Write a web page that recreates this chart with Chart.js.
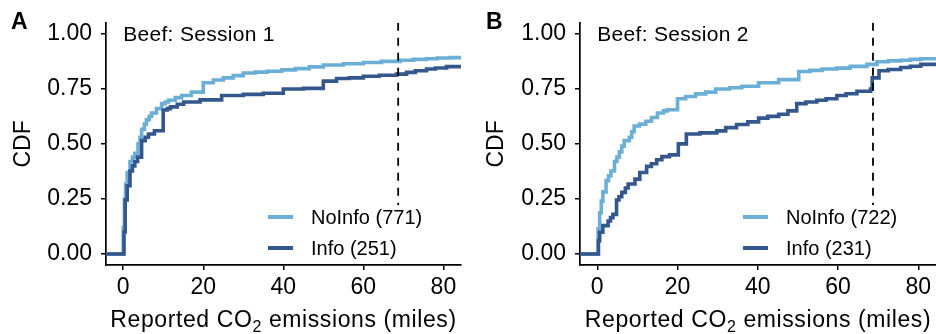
<!DOCTYPE html>
<html>
<head>
<meta charset="utf-8">
<script src="https://cdn.jsdelivr.net/npm/chart.js@4.4.1/dist/chart.umd.min.js"></script>
<style>
  html, body { margin: 0; padding: 0; background: #fff; }
  .panel { position: absolute; top: 0; width: 468px; height: 334px; }
  #panel-a { left: 0; }
  #panel-b { left: 468px; }
</style>
</head>
<body>
<div class="panel" id="panel-a"><canvas id="chart-a"></canvas></div>
<div class="panel" id="panel-b"><canvas id="chart-b"></canvas></div>
<script>
// axis ticks + reference line
const xTicks = [0, 20, 40, 60, 80];
const yTicks = [0, 0.25, 0.5, 0.75, 1];
const cutoffMiles = 68.7;

const groupLabels = ['NoInfo', 'Info'];
const s1Counts = [771, 251];
const s2Counts = [722, 231];

// ECDF steps: x = where the jump happens, y = value after it
const s1NoInfoX = [-5, 0, 0.3, 0.6, 1.0, 1.7, 2.3, 2.9, 3.7, 4.2, 4.6, 5.3, 5.8, 6.5, 7.1, 8.3, 9.6, 10.5, 11.3, 13, 14.6, 17, 20, 22.5, 25, 27.5, 30, 33, 36, 39.6, 43, 46.5, 50, 55, 60, 64.5, 69.2, 72.5, 75.8, 78.5, 81.7, 84.5];
const s1NoInfoY = [0, 0.12, 0.25, 0.318, 0.37, 0.42, 0.44, 0.457, 0.50, 0.53, 0.566, 0.59, 0.61, 0.625, 0.64, 0.66, 0.683, 0.69, 0.698, 0.71, 0.72, 0.735, 0.778, 0.79, 0.80, 0.81, 0.822, 0.826, 0.83, 0.836, 0.842, 0.85, 0.858, 0.864, 0.87, 0.875, 0.88, 0.884, 0.887, 0.89, 0.892, 0.893];
const s1InfoX = [-5, 0.2, 0.5, 1.0, 1.7, 2.3, 2.9, 3.6, 4.6, 5.5, 6.3, 7.8, 10, 11, 11.8, 13.5, 15.1, 19.2, 24.6, 30, 35, 40, 45, 50, 53.3, 56.5, 60, 64, 68.3, 70.8, 73, 75.8, 78, 80.8, 84.5];
const s1InfoY = [0, 0.10, 0.245, 0.31, 0.377, 0.40, 0.42, 0.44, 0.515, 0.53, 0.545, 0.56, 0.654, 0.66, 0.668, 0.68, 0.69, 0.70, 0.72, 0.725, 0.73, 0.749, 0.752, 0.785, 0.797, 0.80, 0.807, 0.812, 0.817, 0.825, 0.832, 0.84, 0.845, 0.851, 0.853];

const s2NoInfoX = [-5, 0.2, 0.6, 1.0, 1.4, 2.2, 2.8, 3.4, 4.3, 4.9, 5.5, 6.1, 6.7, 8.0, 8.6, 9.2, 10.5, 12.1, 13.5, 15, 16.5, 17.5, 20, 22, 24.5, 27, 29.5, 33, 36, 40.2, 45.2, 50.2, 53, 56, 59.7, 63, 67.2, 69.7, 72.5, 75.6, 78, 80.6, 84.5];
const s2NoInfoY = [0, 0.114, 0.187, 0.24, 0.282, 0.333, 0.355, 0.377, 0.42, 0.44, 0.464, 0.49, 0.515, 0.53, 0.555, 0.581, 0.59, 0.603, 0.62, 0.64, 0.65, 0.655, 0.705, 0.715, 0.727, 0.735, 0.749, 0.755, 0.762, 0.778, 0.792, 0.829, 0.834, 0.84, 0.844, 0.852, 0.861, 0.873, 0.877, 0.88, 0.884, 0.887, 0.89];
const s2InfoX = [-5, 0.3, 0.6, 1.4, 2.7, 3.3, 3.9, 4.8, 5.4, 6.1, 7.0, 7.7, 9.4, 10.6, 12.3, 13.5, 14.8, 16.1, 18, 20.2, 22.2, 25.6, 29.8, 32, 34.7, 37.5, 40.2, 42.5, 45.2, 47.5, 49.7, 52, 54.7, 57, 59.7, 62, 64.7, 68.1, 68.5, 70.2, 72.5, 75.6, 78, 80.6, 84.5];
const s2InfoY = [0, 0.06, 0.099, 0.129, 0.15, 0.165, 0.18, 0.245, 0.26, 0.28, 0.30, 0.318, 0.34, 0.37, 0.398, 0.41, 0.428, 0.442, 0.45, 0.50, 0.545, 0.55, 0.559, 0.574, 0.588, 0.60, 0.617, 0.625, 0.635, 0.65, 0.683, 0.69, 0.698, 0.705, 0.72, 0.728, 0.739, 0.749, 0.80, 0.832, 0.838, 0.847, 0.853, 0.861, 0.862];

const lightBlue = '#6baed6';
const darkBlue = '#34578e';
const fontFamily = '"Liberation Sans", Arial, Helvetica, sans-serif';

function stepPoints(xs, ys) {
  return xs.map((x, i) => ({ x: x, y: ys[i] }));
}

// panel letter, in-plot title, x title with subscript, legend box
const panelDecor = {
  id: 'panelDecor',
  afterDatasetsDraw(chart, args, opts) {
    const ctx = chart.ctx;
    const area = chart.chartArea;
    const xs = chart.scales.x, ys = chart.scales.y;
    ctx.save();
    ctx.fillStyle = '#000';

    ctx.font = 'bold 23px ' + fontFamily;
    ctx.textAlign = 'left';
    ctx.textBaseline = 'alphabetic';
    ctx.fillText(opts.letter, opts.letterX, 29);

    ctx.font = '21px ' + fontFamily;
    ctx.textBaseline = 'middle';
    ctx.letterSpacing = '0.3px';
    ctx.fillText(opts.title, xs.getPixelForValue(0), ys.getPixelForValue(1) + 1);

    // x title: Reported CO2 emissions (miles)
    const big = '23px ' + fontFamily, small = '16px ' + fontFamily;
    const p1 = 'Reported CO', p2 = '2', p3 = ' emissions (miles)';
    ctx.letterSpacing = '0.6px';
    ctx.font = big;
    const w1 = ctx.measureText(p1).width, w3 = ctx.measureText(p3).width;
    ctx.font = small;
    const w2 = ctx.measureText(p2).width;
    let x = (area.left + area.right) / 2 - (w1 + w2 + w3) / 2;
    const base = 327;
    ctx.textBaseline = 'alphabetic';
    ctx.font = big; ctx.fillText(p1, x, base); x += w1;
    ctx.font = small; ctx.fillText(p2, x, base + 5); x += w2;
    ctx.font = big; ctx.fillText(p3, x, base);
    ctx.letterSpacing = '0px';

    // legend
    ctx.fillStyle = '#fff';
    ctx.fillRect(area.right - 200, area.bottom - 60, 199, 59);
    const rows = [
      { color: lightBlue, text: groupLabels[0] + ' (' + opts.counts[0] + ')', y: area.bottom - 48 },
      { color: darkBlue, text: groupLabels[1] + ' (' + opts.counts[1] + ')', y: area.bottom - 17 }
    ];
    ctx.font = '20px ' + fontFamily;
    ctx.textBaseline = 'middle';
    rows.forEach(r => {
      ctx.strokeStyle = r.color;
      ctx.lineWidth = 4;
      ctx.beginPath();
      ctx.moveTo(area.right - 193, r.y);
      ctx.lineTo(area.right - 168, r.y);
      ctx.stroke();
      ctx.fillStyle = '#000';
      ctx.fillText(r.text, area.right - 150, r.y + 1);
    });
    ctx.restore();
  }
};

function makePanel(canvasId, p) {
  return new Chart(document.getElementById(canvasId), {
    type: 'line',
    data: {
      datasets: [
        {
          label: 'cutoff',
          data: [{ x: cutoffMiles, y: 1.05 }, { x: cutoffMiles, y: -0.05 }],
          borderColor: '#000', borderWidth: 1.8, borderDash: [8, 7],
          pointRadius: 0
        },
        {
          label: 'Info',
          data: stepPoints(p.infoX, p.infoY),
          borderColor: darkBlue, borderWidth: 3.6, stepped: true, pointRadius: 0
        },
        {
          label: 'NoInfo',
          data: stepPoints(p.noInfoX, p.noInfoY),
          borderColor: lightBlue, borderWidth: 3.6, stepped: true, pointRadius: 0
        }
      ]
    },
    options: {
      responsive: true,
      maintainAspectRatio: false,
      animation: false,
      devicePixelRatio: 1,
      layout: { autoPadding: false, padding: { left: 0, right: p.padRight, top: 13, bottom: 0 } },
      plugins: {
        legend: { display: false },
        tooltip: { enabled: false },
        panelDecor: { letter: p.letter, letterX: p.letterX, title: p.title, counts: p.counts }
      },
      scales: {
        x: {
          type: 'linear', min: -4.3, max: 84.4,
          afterBuildTicks: s => { s.ticks = xTicks.map(v => ({ value: v })); },
          afterFit: s => { s.height = 69; },
          border: { display: true, color: '#000', width: 1.7 },
          grid: { display: true, drawOnChartArea: false, drawTicks: true, tickLength: 5, color: '#000', lineWidth: 1.5 },
          ticks: { color: '#000', padding: 4, font: { family: fontFamily, size: 23 }, maxRotation: 0 }
        },
        y: {
          type: 'linear', min: -0.05, max: 1.05,
          afterBuildTicks: s => { s.ticks = yTicks.map(v => ({ value: v })); },
          afterFit: s => { s.width = p.yWidth; },
          border: { display: true, color: '#000', width: 1.7 },
          grid: { display: true, drawOnChartArea: false, drawTicks: true, tickLength: 5, color: '#000', lineWidth: 1.5 },
          ticks: { color: '#000', padding: 9, font: { family: fontFamily, size: 23 }, callback: v => v.toFixed(2) },
          title: { display: true, text: 'CDF', color: '#000', font: { family: fontFamily, size: 23 }, padding: { top: p.titlePad, bottom: 0 } }
        }
      }
    },
    plugins: [panelDecor]
  });
}

makePanel('chart-a', {
  letter: 'A', letterX: 11, title: 'Beef: Session 1', counts: s1Counts,
  noInfoX: s1NoInfoX, noInfoY: s1NoInfoY, infoX: s1InfoX, infoY: s1InfoY,
  yWidth: 106, padRight: 7, titlePad: 10
});
makePanel('chart-b', {
  letter: 'B', letterX: 18, title: 'Beef: Session 2', counts: s2Counts,
  noInfoX: s2NoInfoX, noInfoY: s2NoInfoY, infoX: s2InfoX, infoY: s2InfoY,
  yWidth: 112, padRight: 0, titlePad: 15
});
</script>
</body>
</html>
